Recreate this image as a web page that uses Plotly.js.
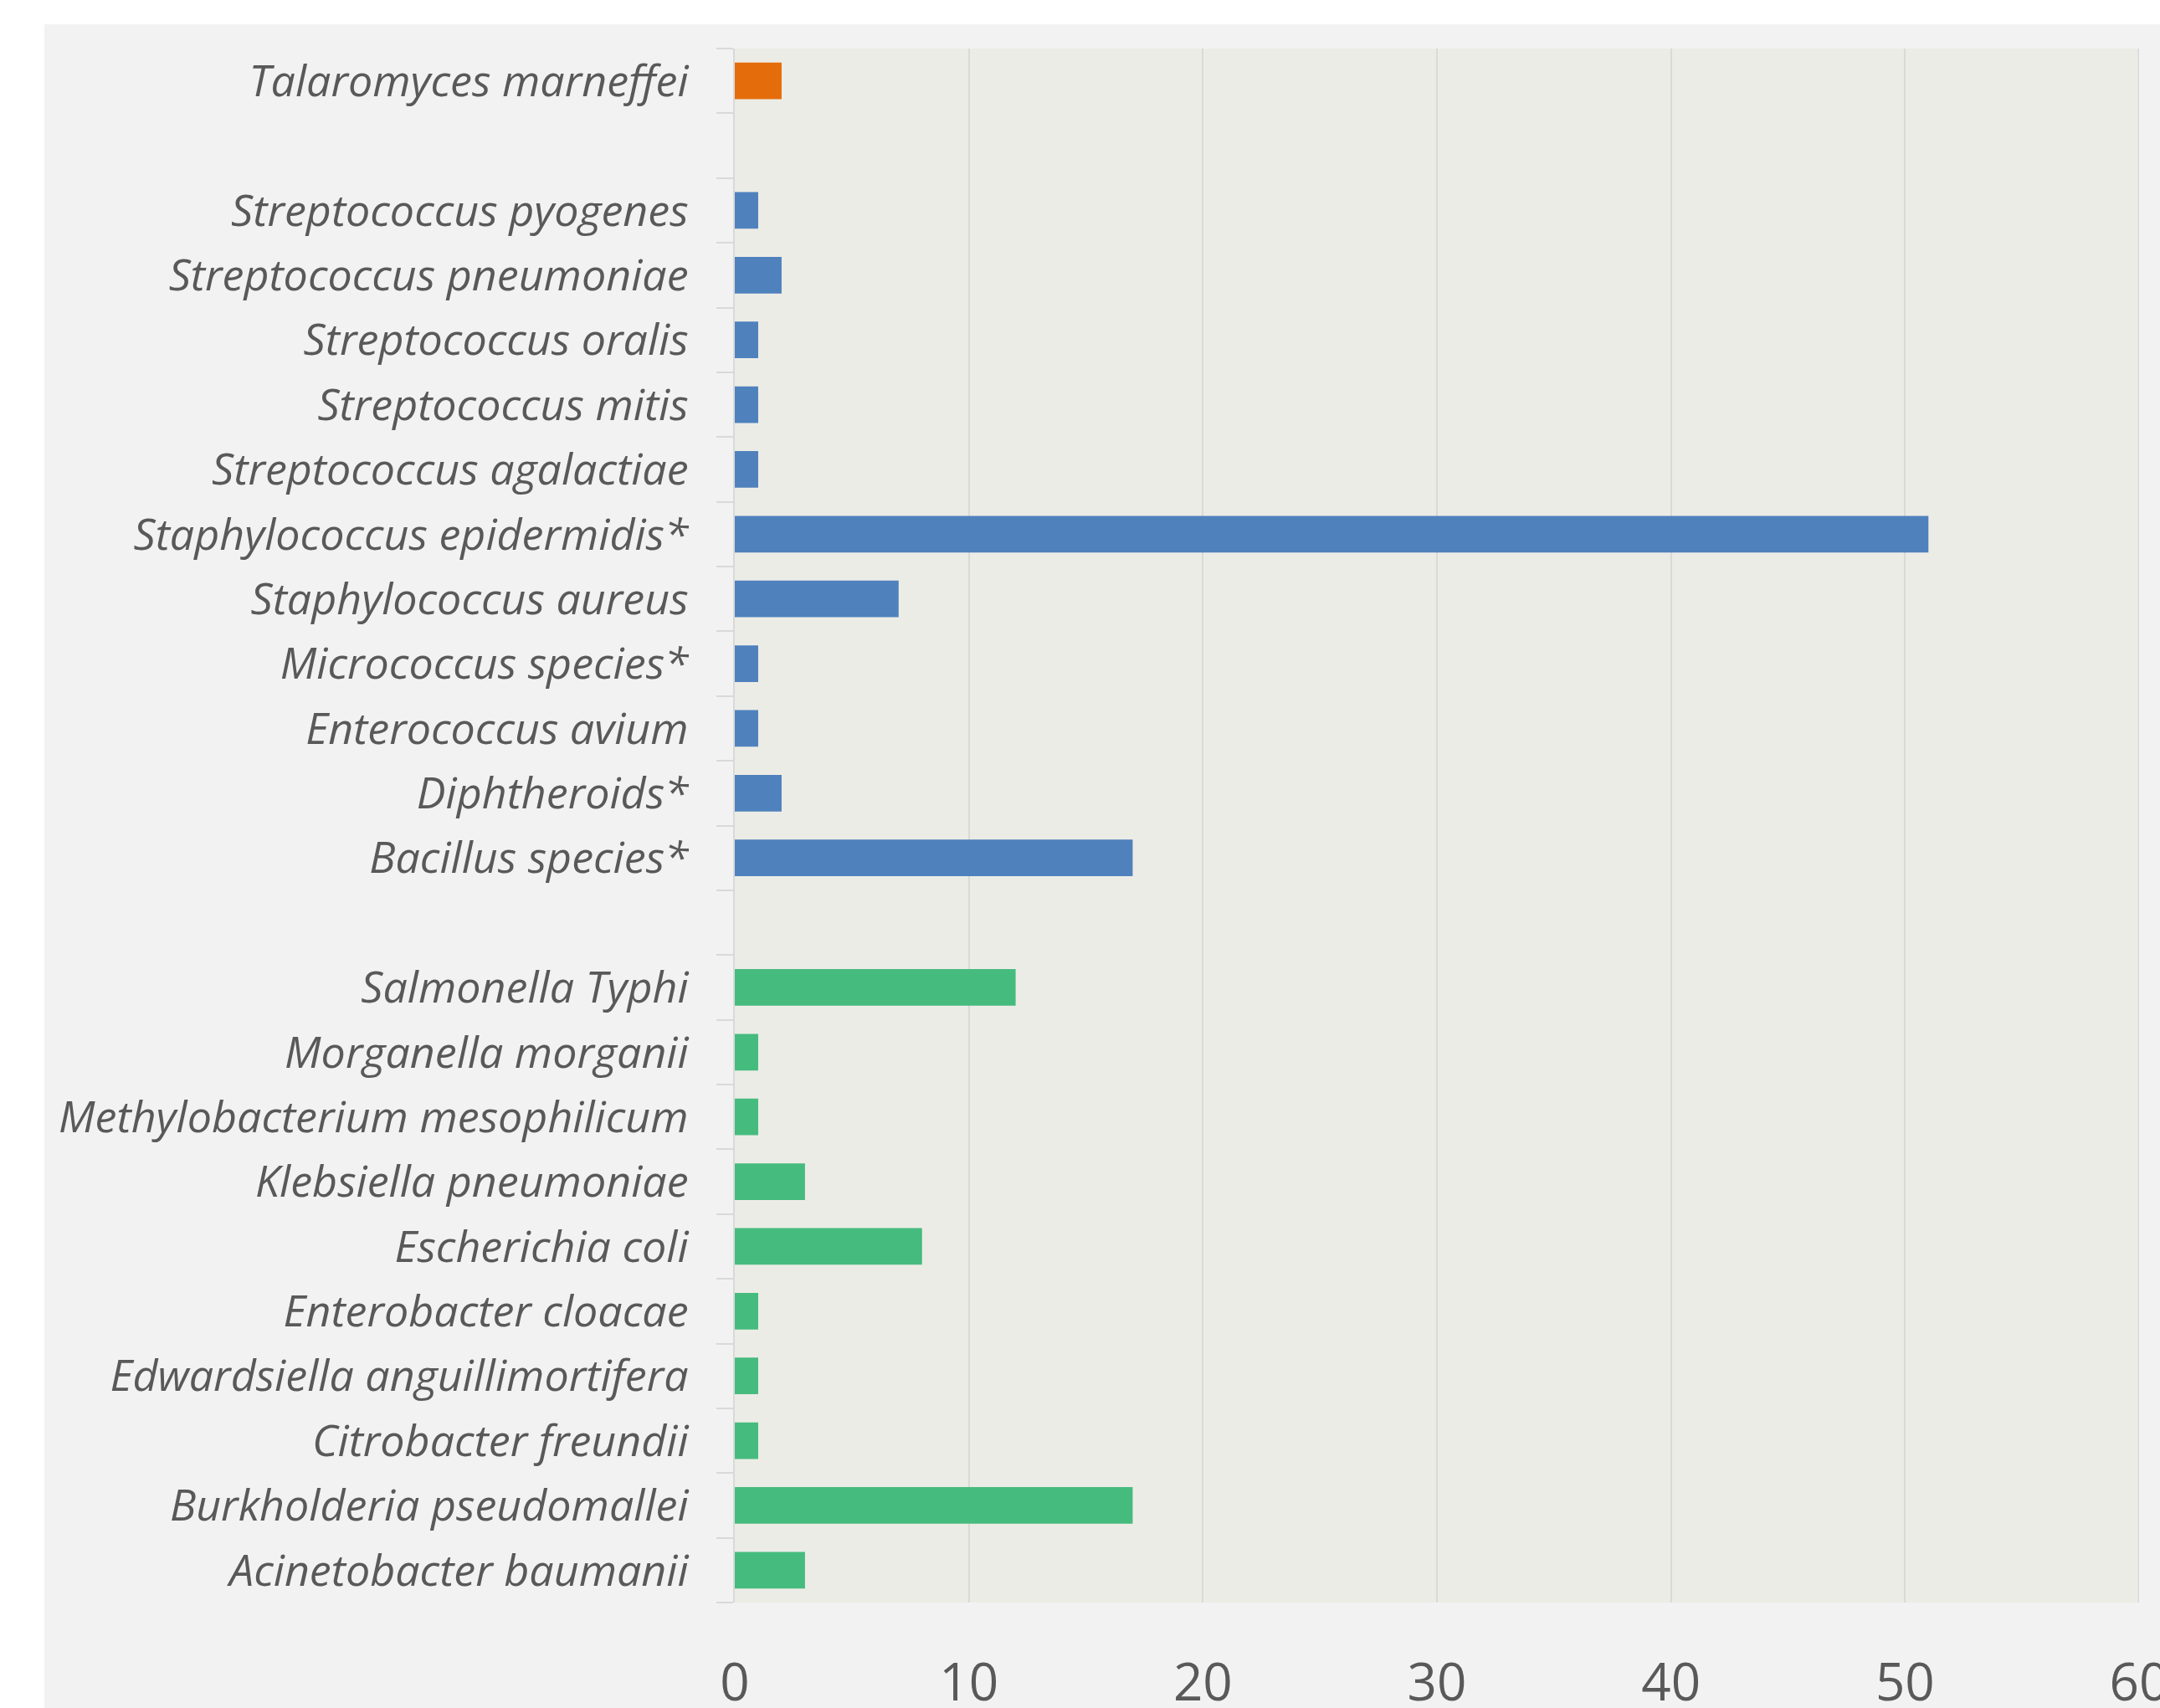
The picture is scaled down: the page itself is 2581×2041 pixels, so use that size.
<!DOCTYPE html>
<html>
<head>
<meta charset="utf-8">
<script src="https://cdn.plot.ly/plotly-3.0.1.min.js"></script>
<style>
html, body { margin: 0; padding: 0; background: #ffffff; width: 2581px; height: 2041px; overflow: hidden; }
#chart { position: absolute; left: 53px; top: 29px; width: 2528px; height: 2012px; }
</style>
</head>
<body>
<div id="chart"></div>
<script>
// Category order from top to bottom (blank rows separate the groups)
const blank1 = "\u200b";
const blank2 = "\u200b\u200b";
const categories = [
  "Talaromyces marneffei",
  blank1,
  "Streptococcus pyogenes",
  "Streptococcus pneumoniae",
  "Streptococcus oralis",
  "Streptococcus mitis",
  "Streptococcus agalactiae",
  "Staphylococcus epidermidis*",
  "Staphylococcus aureus",
  "Micrococcus species*",
  "Enterococcus avium",
  "Diphtheroids*",
  "Bacillus species*",
  blank2,
  "Salmonella Typhi",
  "Morganella morganii",
  "Methylobacterium mesophilicum",
  "Klebsiella pneumoniae",
  "Escherichia coli",
  "Enterobacter cloacae",
  "Edwardsiella anguillimortifera",
  "Citrobacter freundii",
  "Burkholderia pseudomallei",
  "Acinetobacter baumanii"
];

const fungiNames = ["Talaromyces marneffei"];
const fungiValues = [2];

const grampositiveNames = [
  "Streptococcus pyogenes",
  "Streptococcus pneumoniae",
  "Streptococcus oralis",
  "Streptococcus mitis",
  "Streptococcus agalactiae",
  "Staphylococcus epidermidis*",
  "Staphylococcus aureus",
  "Micrococcus species*",
  "Enterococcus avium",
  "Diphtheroids*",
  "Bacillus species*"
];
const grampositiveValues = [1, 2, 1, 1, 1, 51, 7, 1, 1, 2, 17];

const gramnegativeNames = [
  "Salmonella Typhi",
  "Morganella morganii",
  "Methylobacterium mesophilicum",
  "Klebsiella pneumoniae",
  "Escherichia coli",
  "Enterobacter cloacae",
  "Edwardsiella anguillimortifera",
  "Citrobacter freundii",
  "Burkholderia pseudomallei",
  "Acinetobacter baumanii"
];
const gramnegativeValues = [12, 1, 1, 3, 8, 1, 1, 1, 17, 3];

const xTicks = [0, 10, 20, 30, 40, 50, 60];
const xMax = 60;

const barWidth = 0.565;
const traces = [
  { type: "bar", orientation: "h", y: fungiNames, x: fungiValues, width: barWidth,
    marker: { color: "#e46c0a", line: { width: 0 } }, hoverinfo: "x+y" },
  { type: "bar", orientation: "h", y: grampositiveNames, x: grampositiveValues, width: barWidth,
    marker: { color: "#4f81bd", line: { width: 0 } }, hoverinfo: "x+y" },
  { type: "bar", orientation: "h", y: gramnegativeNames, x: gramnegativeValues, width: barWidth,
    marker: { color: "#46bb7e", line: { width: 0 } }, hoverinfo: "x+y" }
];

const layout = {
  width: 2528,
  height: 2012,
  paper_bgcolor: "#f2f2f2",
  plot_bgcolor: "#ecece6",
  showlegend: false,
  barmode: "overlay",
  margin: { l: 825, r: 25, t: 29, b: 126, pad: 0 },
  font: { family: "'Open Sans', 'Noto Sans', sans-serif", color: "#595959" },
  xaxis: {
    range: [0, xMax],
    tickvals: xTicks,
    ticktext: xTicks.map(String),
    showgrid: true,
    gridcolor: "#d9d9d9",
    gridwidth: 2,
    zeroline: false,
    showline: false,
    ticks: "",
    ticklabelstandoff: 54,
    ticklabeloverflow: "allow",
    tickfont: { size: 62, color: "#595959", family: "'Open Sans', 'Noto Sans', sans-serif" }
  },
  yaxis: {
    type: "category",
    categoryorder: "array",
    categoryarray: categories,
    tickvals: categories,
    range: [categories.length - 0.5, -0.5],
    autorange: false,
    showgrid: false,
    zeroline: false,
    showline: true,
    linecolor: "#d9d9d9",
    linewidth: 2,
    ticks: "outside",
    tickson: "boundaries",
    ticklen: 20,
    tickwidth: 2,
    tickcolor: "#d9d9d9",
    ticklabelstandoff: 43,
    tickfont: { size: 52, color: "#595959", family: "'Open Sans', 'Noto Sans', sans-serif", style: "italic" }
  },
  shapes: [
    { type: "line", xref: "x", yref: "paper", x0: xMax, x1: xMax, y0: 0, y1: 1,
      line: { color: "#d9d9d9", width: 3 }, layer: "below" }
  ]
};

Plotly.newPlot("chart", traces, layout, { displayModeBar: false, staticPlot: true });
</script>
</body>
</html>
